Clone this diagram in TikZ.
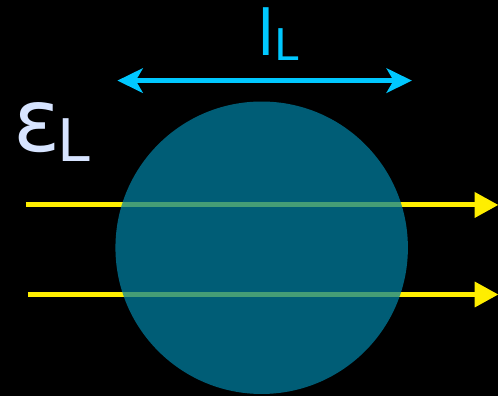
\documentclass[tikz,border=0pt]{standalone}
\usepackage{fontspec}
\setmainfont{DejaVu Sans}
\usetikzlibrary{arrows.meta, positioning}

\definecolor{beamyellow}{RGB}{255,238,0}
\definecolor{lencyan}{RGB}{0,200,255}
\definecolor{slabteal}{RGB}{0,128,163}
\definecolor{epslight}{RGB}{215,228,255}

\begin{document}
\begin{tikzpicture}[
    x=0.02cm, y=-0.02cm,
    beam/.style={beamyellow, line width=2.9pt, -{Triangle[length=13.6pt, width=14pt]}},
    lenarrow/.style={lencyan, line width=2.9pt, {Stealth[length=14.5pt, width=14pt, inset=4pt]}-{Stealth[length=14.5pt, width=14pt, inset=4pt]}},
    sphere/.style={circle, fill=slabteal, fill opacity=0.73, minimum size=5.88cm, inner sep=0pt},
    lab/.style={inner sep=0pt, anchor=base west}
]

% black page
\fill[black] (0,0) rectangle (501,398);

% beam ends
\coordinate (in1) at (26,206);
\coordinate (out1) at (501,206);
\coordinate (in2) at (28,296);
\coordinate (out2) at (501,296);

% beams (under the sphere)
\draw[beam] (in1) -- (out1);
\draw[beam] (in2) -- (out2);

% sphere
\node[sphere] (ball) at (263,249) {};

% size arrow
\coordinate (lenW) at (118,81);
\coordinate (lenE) at (414,81);
\draw[lenarrow] (lenW) -- (lenE);

% labels
\node[lab, text=lencyan, font=\fontsize{36}{36}\selectfont] (lenlab) at (258,55.7) {l\raisebox{-2.9pt}{\fontsize{25}{25}\selectfont L}};
\node[lab, text=epslight, font=\fontsize{50}{50}\selectfont] (epslab) at (13,152) {ε\kern-1.5pt\raisebox{-5.7pt}{\fontsize{33.6}{33.6}\selectfont L}};

\end{tikzpicture}
\end{document}
